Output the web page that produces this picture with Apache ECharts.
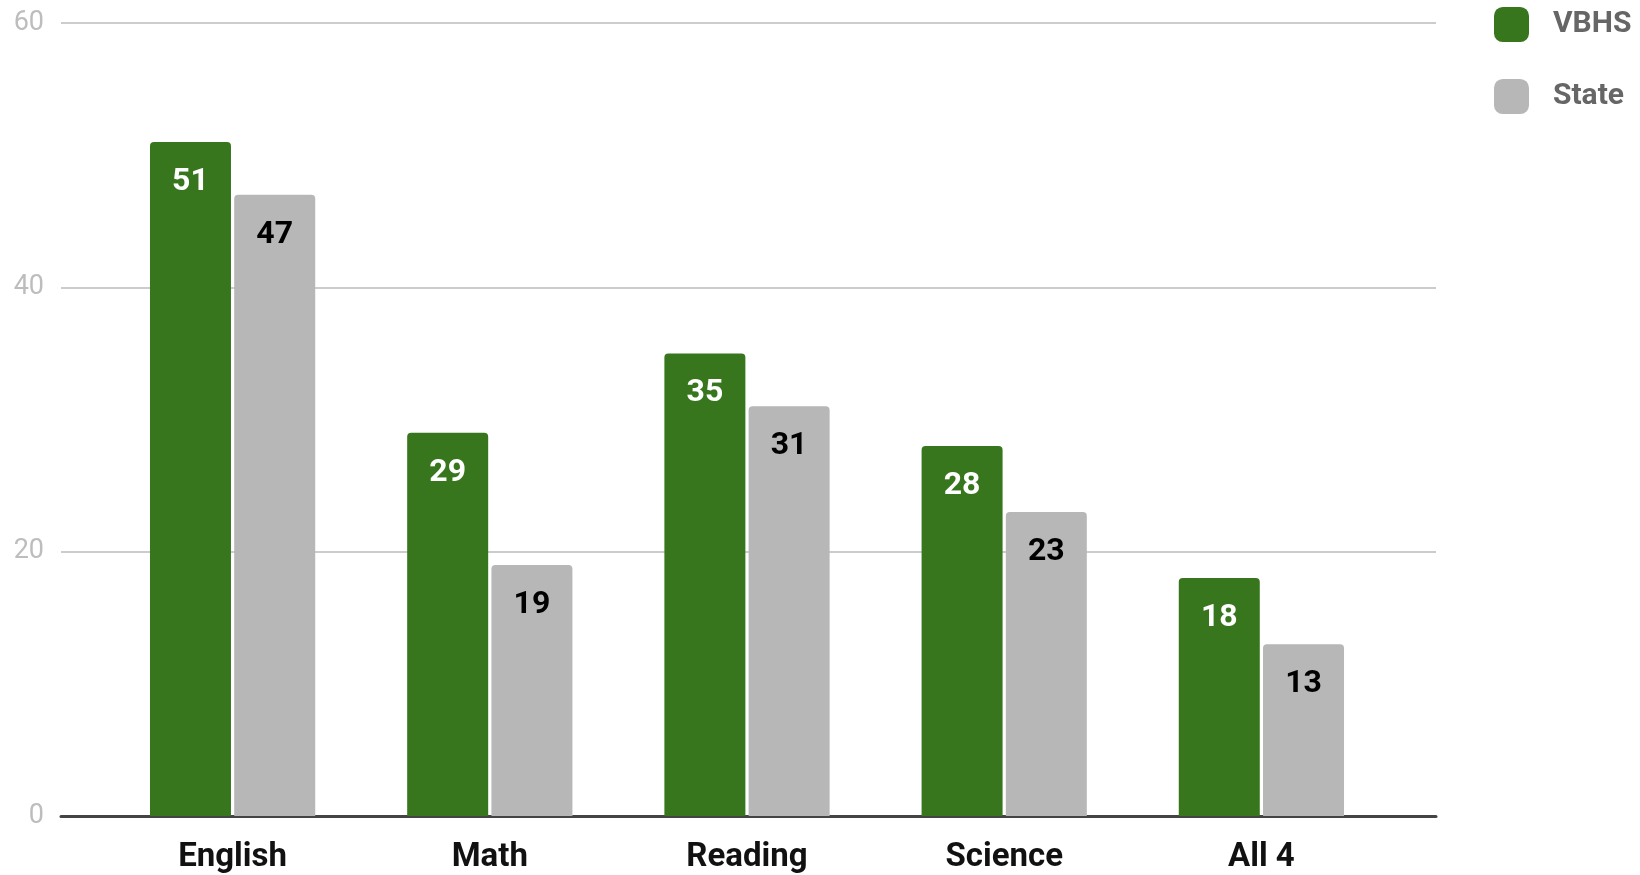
<!DOCTYPE html>
<html>
<head>
<meta charset="utf-8">
<script src="https://cdn.jsdelivr.net/npm/echarts@6/dist/echarts.min.js"></script>
<style>
html,body{margin:0;padding:0;background:#fff;}
#chart{width:1640px;height:875px;}
</style>
</head>
<body>
<div id="chart"></div>
<script>
var categories = ['English', 'Math', 'Reading', 'Science', 'All 4'];
var vbhs = [51, 29, 35, 28, 18];
var state = [47, 19, 31, 23, 13];
var yTicks = [0, 20, 40, 60];

var chart = echarts.init(document.getElementById('chart'), null, {renderer: 'canvas'});
var FONT = 'Roboto';
chart.setOption({
  animation: false,
  backgroundColor: '#fff',
  textStyle: {fontFamily: FONT},
  legend: {
    orient: 'vertical',
    left: 1489,
    top: 2,
    itemWidth: 35,
    itemHeight: 35,
    itemGap: 37,
    icon: 'roundRect',
    textStyle: {fontFamily: FONT, fontSize: 30, fontWeight: 'bold', color: '#666666', padding: [0, 0, 0, 19]},
    data: ['VBHS', 'State']
  },
  grid: [
    {left: 61, right: 204, top: 23, bottom: 59},
    {left: 104, right: 250, top: 23, bottom: 59}
  ],
  xAxis: [
    {
      gridIndex: 0, type: 'value', min: 0, max: 1,
      axisLine: {show: true, onZero: false, lineStyle: {color: '#444444', width: 3}},
      axisTick: {show: false}, axisLabel: {show: false}, splitLine: {show: false}
    },
    {
      gridIndex: 1, type: 'category', data: categories,
      axisLine: {show: false}, axisTick: {show: false},
      axisLabel: {fontFamily: FONT, fontSize: 33, fontWeight: 'bold', color: '#111111', margin: 25}
    }
  ],
  yAxis: [
    {
      gridIndex: 0, type: 'value', min: yTicks[0], max: yTicks[yTicks.length - 1], interval: 20,
      axisLine: {show: false}, axisTick: {show: false},
      axisLabel: {fontFamily: FONT, fontSize: 27, color: '#bdbdbd', margin: 17},
      splitLine: {lineStyle: {color: '#cccccc', width: 2}}
    },
    {
      gridIndex: 1, type: 'value', min: yTicks[0], max: yTicks[yTicks.length - 1], interval: 20,
      axisLine: {show: false}, axisTick: {show: false}, axisLabel: {show: false}, splitLine: {show: false}
    }
  ],
  series: [
    {
      name: 'VBHS', type: 'bar', xAxisIndex: 1, yAxisIndex: 1, data: vbhs,
      barWidth: 81, barGap: '4%',
      itemStyle: {color: '#38761d', borderRadius: [4, 4, 0, 0]},
      label: {show: true, position: 'insideTop', distance: 24, fontFamily: FONT, fontSize: 32, fontWeight: 'bold', color: '#ffffff'}
    },
    {
      name: 'State', type: 'bar', xAxisIndex: 1, yAxisIndex: 1, data: state,
      barWidth: 81, barGap: '4%',
      itemStyle: {color: '#b7b7b7', borderRadius: [4, 4, 0, 0]},
      label: {show: true, position: 'insideTop', distance: 24, fontFamily: FONT, fontSize: 32, fontWeight: 'bold', color: '#000000'}
    }
  ]
});
</script>
</body>
</html>
